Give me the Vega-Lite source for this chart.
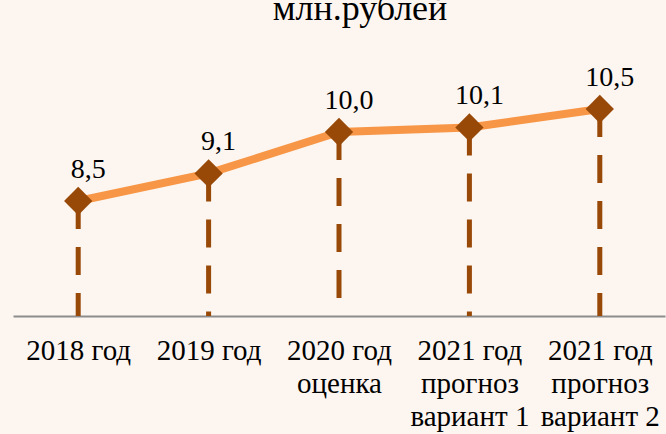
{
  "$schema": "https://vega.github.io/schema/vega-lite/v6.json",
  "width": 652,
  "height": 276,
  "autosize": "none",
  "padding": {"left": 13, "top": 40, "right": 1, "bottom": 118},
  "background": "#FDF6F0",
  "title": {
    "text": "млн.рублей",
    "font": "Liberation Serif",
    "fontSize": 36,
    "fontWeight": "normal",
    "color": "#000000",
    "anchor": "middle",
    "frame": "group",
    "baseline": "bottom",
    "offset": 0,
    "dy": 24,
    "dx": 21
  },
  "config": {
    "view": {"stroke": null},
    "font": "Liberation Serif"
  },
  "data": {
    "values": [
      {"period": "2018 год", "value": 8.5, "label": "8,5"},
      {"period": "2019 год", "value": 9.1, "label": "9,1"},
      {"period": "2020 год\nоценка", "value": 10.0, "label": "10,0"},
      {"period": "2021 год\nпрогноз\nвариант 1", "value": 10.1, "label": "10,1"},
      {"period": "2021 год\nпрогноз\nвариант 2", "value": 10.5, "label": "10,5"}
    ]
  },
  "encoding": {
    "x": {
      "field": "period",
      "type": "nominal",
      "sort": null,
      "scale": {"type": "point", "padding": 0.5},
      "axis": {
        "title": null,
        "labelAngle": 0,
        "labelExpr": "split(datum.label, '\\n')",
        "labelFont": "Liberation Serif",
        "labelFontSize": 29,
        "labelColor": "#000000",
        "labelLineHeight": 33,
        "labelPadding": 20,
        "labelBaseline": "top",
        "ticks": false,
        "domainColor": "#8C8C8C",
        "domainWidth": 2,
        "grid": false
      }
    },
    "y": {
      "field": "value",
      "type": "quantitative",
      "scale": {"domain": [6, 12], "nice": false, "zero": false},
      "axis": null
    }
  },
  "layer": [
    {
      "mark": {"type": "rule", "color": "#984807", "strokeWidth": 5, "strokeDash": [28, 18]},
      "encoding": {"y2": {"datum": 6}}
    },
    {
      "mark": {"type": "line", "color": "#F79646", "strokeWidth": 8}
    },
    {
      "mark": {"type": "point", "shape": "diamond", "filled": true, "size": 800, "color": "#984807", "opacity": 1}
    },
    {
      "mark": {"type": "text", "font": "Liberation Serif", "fontSize": 28, "color": "#000000", "baseline": "alphabetic", "align": "center", "dx": 10, "dy": -23},
      "encoding": {"text": {"field": "label"}}
    }
  ]
}
